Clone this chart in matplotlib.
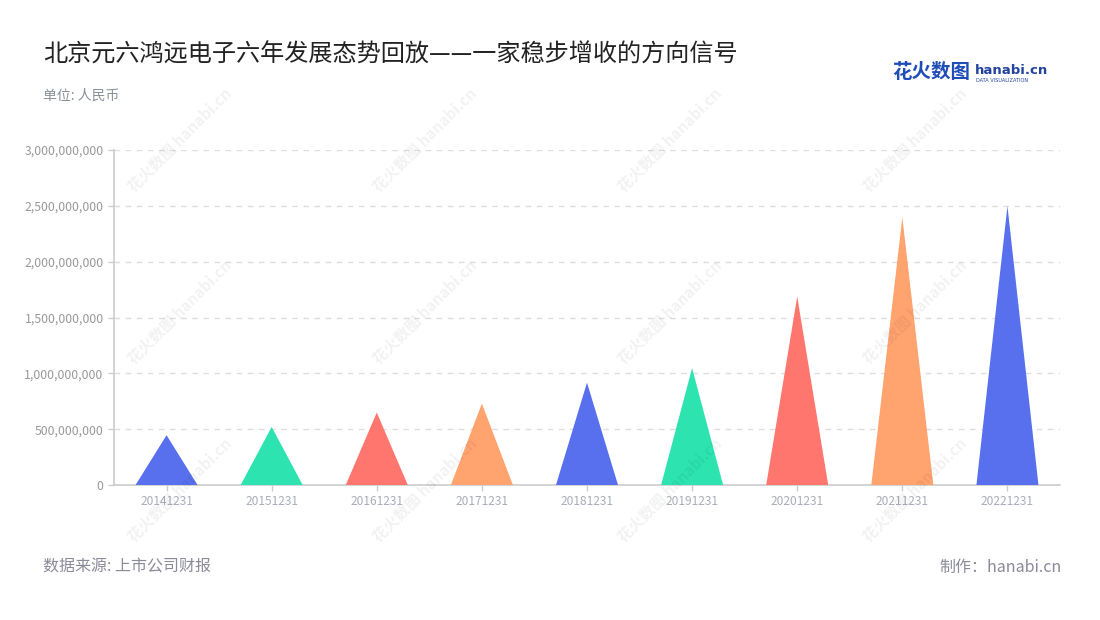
import matplotlib
matplotlib.use("Agg")
import matplotlib.pyplot as plt
from matplotlib.ticker import FuncFormatter, MultipleLocator

plt.rcParams['font.family'] = ['Noto Sans CJK SC', 'DejaVu Sans']

categories = ["20141231", "20151231", "20161231", "20171231", "20181231",
              "20191231", "20201231", "20211231", "20221231"]
values = [0.446e9, 0.520e9, 0.649e9, 0.729e9, 0.917e9,
          1.047e9, 1.688e9, 2.396e9, 2.497e9]
colors = ["#5970EE", "#2DE3B0", "#FF766E", "#FFA36F"]

title = "北京元六鸿远电子六年发展态势回放——一家稳步增收的方向信号"
unit = "单位: 人民币"
source = "数据来源: 上市公司财报"
maker = "制作：hanabi.cn"

fig = plt.figure(figsize=(11, 6.2), dpi=100)
ax = fig.add_axes([114 / 1100, 135 / 620, 946 / 1100, 335 / 620])

w = 0.59
for i, v in enumerate(values):
    xs = [i - w / 2, i, i + w / 2]
    ys = [0, v, 0]
    ax.fill(xs, ys, color=colors[i % len(colors)], linewidth=0, zorder=3)

ax.set_xlim(-0.5, len(categories) - 0.5)
ax.set_ylim(0, 3e9)
ax.yaxis.set_major_locator(MultipleLocator(5e8))
ax.yaxis.set_major_formatter(FuncFormatter(lambda v, p: f"{int(v):,}"))
ax.set_xticks(range(len(categories)))
ax.set_xticklabels(categories)

for y in range(1, 7):
    ax.axhline(y * 5e8, color="#dddddd", linestyle=(0, (4, 4)), linewidth=1, zorder=1)

for s in ["top", "right"]:
    ax.spines[s].set_visible(False)
for s in ["left", "bottom"]:
    ax.spines[s].set_color("#cccccc")
    ax.spines[s].set_linewidth(1.2)

ax.tick_params(axis="y", colors="#cccccc", labelcolor="#999999", labelsize=8.8, length=4, width=1)
ax.tick_params(axis="x", colors="#cccccc", labelcolor="#a8adb8", labelsize=8.6, length=4, width=1, pad=3)

# Titles and notes
fig.text(43 / 1100, 1 - 55 / 620, title, fontsize=17.4, color="#222222", va="center", ha="left")
fig.text(43 / 1100, 1 - 96 / 620, unit, fontsize=10, color="#8a8f99", va="center", ha="left")
fig.text(43 / 1100, 1 - 567 / 620, source, fontsize=11.5, color="#8a8a99", va="center", ha="left")
fig.text(1062 / 1100, 1 - 567 / 620, maker, fontsize=11.5, color="#8a8a99", va="center", ha="right")

# Logo
fig.text(892 / 1100, 1 - 73 / 620, "花火数图", fontsize=14, color="#1f4db8", fontweight="bold",
         va="center", ha="left")
fig.text(975 / 1100, 1 - 70 / 620, "hanabi.cn", fontsize=9.5, color="#22449e", fontweight="bold",
         va="center", ha="left", family="DejaVu Sans")
fig.text(976 / 1100, 1 - 80 / 620, "DATA VISUALIZATION", fontsize=3.6, color="#22449e",
         va="center", ha="left", family="DejaVu Sans")

# Watermarks
for cx in [180, 425, 670, 915]:
    for cy in [140, 312, 490]:
        fig.text(cx / 1100, 1 - cy / 620, "花火数图 hanabi.cn", fontsize=11, rotation=45,
                 color="#000000", alpha=0.055, fontweight="bold", ha="center", va="center",
                 zorder=10)

fig.savefig("out.png", dpi=100)
